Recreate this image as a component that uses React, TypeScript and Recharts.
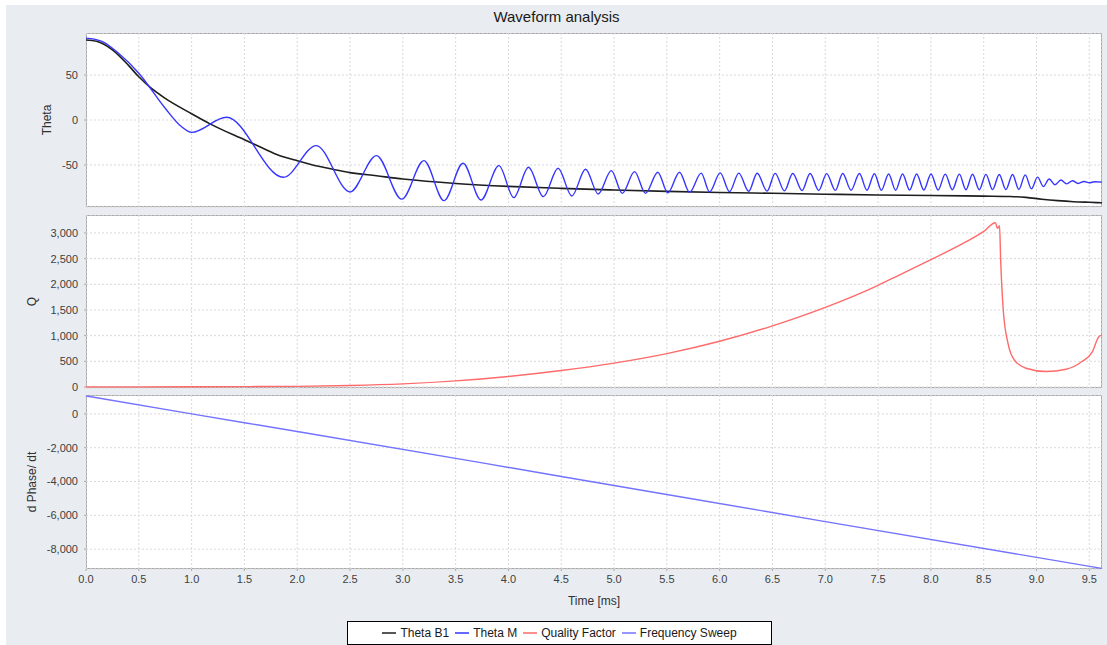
import { CartesianGrid, Line, LineChart, XAxis, YAxis } from "recharts";

// time axis (ms)
const X_TICKS = [0, 0.5, 1, 1.5, 2, 2.5, 3, 3.5, 4, 4.5, 5, 5.5, 6, 6.5, 7, 7.5, 8, 8.5, 9, 9.5];
const X_DOMAIN: [number, number] = [0, 9.62];

const THETA_TICKS = [-50, 0, 50];
const Q_TICKS = [0, 500, 1000, 1500, 2000, 2500, 3000];
const PHASE_TICKS = [-8000, -6000, -4000, -2000, 0];

// [time, value]
const thetaB1: [number, number][] = [
  [0, 89], [0.1, 87.5], [0.25, 78], [0.4, 61], [0.5, 48], [0.6, 37], [0.75, 24], [1.0, 7],
  [1.17, -4], [1.5, -22], [1.65, -30], [1.8, -38], [2.01, -45.5], [2.2, -51.5], [2.37, -55.6],
  [2.5, -58.5], [2.75, -62], [3.0, -65.5], [3.5, -70.5], [4.0, -73.8], [4.5, -76], [5.0, -77.8],
  [5.5, -79.3], [6.0, -80.5], [6.5, -81.5], [7.0, -82.5], [7.5, -83.3], [8.0, -84], [8.5, -84.6],
  [8.75, -85], [8.9, -86], [9.05, -88], [9.2, -89.6], [9.35, -90.8], [9.5, -91.5], [9.62, -92],
];

const thetaM: [number, number][] = [
  [0, 91], [0.15, 87.5], [0.3, 75], [0.5, 52], [0.75, 13], [0.9, -7], [1.0, -13.7],
  [1.33, 3], [1.87, -63.7], [2.18, -28.5], [2.5, -80], [2.75, -39.6], [2.99, -88],
  [3.2, -45.2], [3.39, -89.6], [3.57, -48.1], [3.74, -88.9], [3.91, -50.7], [4.05, -86.3],
  [4.19, -52.6], [4.33, -85.2], [4.47, -53.7], [4.6, -84.4], [4.73, -54.8], [4.85, -82.2],
  [4.974, -56.3], [5.078, -81.5], [5.194, -57.4], [5.298, -81.5], [5.414, -58.1], [5.509, -81],
  [5.62, -58], [5.715, -80.4], [5.825, -59], [5.904, -80], [6.005, -58.8], [6.093, -79.6],
  [6.181, -59], [6.275, -79.2], [6.355, -59.2], [6.449, -79], [6.525, -59.3], [6.613, -78.8],
  [6.692, -59.5], [6.78, -78.5], [6.856, -59.5], [6.938, -78.3], [7.013, -59.6], [7.095, -78.2],
  [7.165, -59.5], [7.244, -78], [7.323, -59.5], [7.394, -78], [7.465, -59.8], [7.531, -78],
  [7.6, -60], [7.666, -78], [7.732, -60], [7.798, -77.8], [7.865, -60], [7.933, -77.8],
  [8.001, -60], [8.068, -77.8], [8.136, -60.2], [8.203, -77.6], [8.269, -60.2], [8.332, -77.5],
  [8.394, -60.3], [8.458, -77.5], [8.521, -60.4], [8.584, -77.4], [8.647, -60.5], [8.71, -77.4],
  [8.773, -60.5], [8.833, -77.2], [8.893, -61], [8.952, -76.5], [9.01, -63.5], [9.065, -74],
  [9.12, -65.5], [9.175, -72], [9.231, -66.7], [9.286, -71], [9.341, -67.5], [9.394, -70.5],
  [9.45, -68.3], [9.5, -69.8], [9.55, -68.6], [9.62, -69],
];

const qualityFactor: [number, number][] = [
  [0, 2], [1, 4], [1.5, 7], [2, 12], [2.5, 28], [3, 60], [3.5, 118], [4, 205], [4.5, 320],
  [5, 465], [5.5, 650], [6, 890], [6.5, 1190], [7, 1550], [7.5, 1980], [7.7, 2180], [8.0, 2480],
  [8.33, 2825], [8.5, 3030], [8.61, 3200], [8.63, 3090], [8.65, 3140], [8.66, 2500],
  [8.685, 1500], [8.73, 850], [8.79, 525], [8.9, 365], [9.09, 300], [9.28, 345], [9.43, 495],
  [9.53, 690], [9.59, 980], [9.62, 1010],
];

const frequencySweep: [number, number][] = [
  [0, 1060], [1.0, 0], [2.0, -1040], [4.5, -3700], [7.0, -6370], [9.62, -9140],
];

const SERIES = [
  { name: "Theta B1", color: "#1e1e1e" },
  { name: "Theta M", color: "#3535ff" },
  { name: "Quality Factor", color: "#ff6a6a" },
  { name: "Frequency Sweep", color: "#7373ff" },
];

const FONT = '"Liberation Sans", Arial, Helvetica, sans-serif';
const PLOT_LEFT = 86;
const PLOT_W = 1016;
const CHART_W = 1107;
const AXIS_GRAY = "#a9a9a9";

const toRows = (pts: [number, number][]) => pts.map(([t, v]) => ({ t, v }));
const fmt = (v: number) => v.toLocaleString("en-US");

interface PanelProps {
  top: number;
  height: number;
  domain: [number, number];
  ticks: number[];
  label: string;
  labelOffset: number;
  lines: { rows: { t: number; v: number }[]; color: string; width: number }[];
  showX?: boolean;
}

function Panel({ top, height, domain, ticks, label, labelOffset, lines, showX }: PanelProps) {
  // room under the plot: x axis on the last panel, a little slack elsewhere so the "0" label isn't clipped
  const below = showX ? 40 : 8;
  return (
    <>
      <div
        style={{
          position: "absolute",
          left: PLOT_LEFT,
          top,
          width: PLOT_W,
          height,
          background: "#fff",
          border: `1px solid ${AXIS_GRAY}`,
          boxSizing: "border-box",
        }}
      />
      <div style={{ position: "absolute", left: 0, top }}>
        <LineChart
          width={CHART_W}
          height={height + below}
          margin={{ top: 0, right: CHART_W - PLOT_LEFT - PLOT_W, bottom: showX ? 0 : below, left: 0 }}
        >
          <CartesianGrid stroke="#d9d9d9" strokeDasharray="2 2" />
          <XAxis
            type="number"
            dataKey="t"
            domain={X_DOMAIN}
            ticks={X_TICKS}
            interval={0}
            allowDataOverflow
            hide={!showX}
            height={showX ? below : 0}
            axisLine={false}
            tickLine={{ stroke: AXIS_GRAY }}
            tickSize={2}
            tickMargin={4}
            tick={{ fontSize: 11, fill: "#404040" }}
            tickFormatter={(v: number) => v.toFixed(1)}
            label={
              showX
                ? { value: "Time [ms]", position: "insideBottom", offset: 4, fill: "#303030", fontSize: 12 }
                : undefined
            }
          />
          <YAxis
            type="number"
            domain={domain}
            ticks={ticks}
            interval={0}
            allowDataOverflow
            width={PLOT_LEFT}
            axisLine={false}
            tickLine={{ stroke: AXIS_GRAY }}
            tickSize={2}
            tickMargin={6}
            tick={{ fontSize: 11, fill: "#404040" }}
            tickFormatter={fmt}
            label={{
              value: label,
              angle: -90,
              position: "insideLeft",
              offset: labelOffset,
              fill: "#303030",
              fontSize: 12,
              style: { textAnchor: "middle" },
            }}
          />
          {lines.map((l, i) => (
            <Line
              key={i}
              data={l.rows}
              dataKey="v"
              type="monotone"
              stroke={l.color}
              strokeWidth={l.width}
              dot={false}
              isAnimationActive={false}
            />
          ))}
        </LineChart>
      </div>
    </>
  );
}

export default function App() {
  return (
    <div
      style={{
        position: "fixed",
        left: 0,
        top: 0,
        width: 1107,
        height: 645,
        background: "#fff",
        fontFamily: FONT,
        overflow: "hidden",
      }}
    >
      <div style={{ position: "absolute", left: 6, top: 5, right: 0, bottom: 0, background: "#e9edf1" }} />
      <div
        style={{
          position: "absolute",
          left: 6,
          right: 0,
          top: 8,
          textAlign: "center",
          fontSize: 15,
          color: "#1a1a1a",
        }}
      >
        Waveform analysis
      </div>

      <Panel
        top={33}
        height={174}
        domain={[-96.7, 96.7]}
        ticks={THETA_TICKS}
        label="Theta"
        labelOffset={47}
        lines={[
          { rows: toRows(thetaB1), color: SERIES[0].color, width: 1.6 },
          { rows: toRows(thetaM), color: SERIES[1].color, width: 1.4 },
        ]}
      />
      <Panel
        top={215}
        height={173}
        domain={[-20, 3350]}
        ticks={Q_TICKS}
        label="Q"
        labelOffset={32}
        lines={[{ rows: toRows(qualityFactor), color: SERIES[2].color, width: 1.4 }]}
      />
      <Panel
        top={395}
        height={174}
        domain={[-9176, 1118]}
        ticks={PHASE_TICKS}
        label="d Phase/ dt"
        labelOffset={32}
        lines={[{ rows: toRows(frequencySweep), color: SERIES[3].color, width: 1.4 }]}
        showX
      />

      <div
        style={{
          position: "absolute",
          left: 347,
          top: 621,
          width: 425,
          height: 24,
          boxSizing: "border-box",
          border: "1px solid #000",
          background: "#fff",
          display: "flex",
          alignItems: "center",
          justifyContent: "center",
          gap: 6,
          fontSize: 12,
          color: "#1a1a1a",
        }}
      >
        {SERIES.map((s) => (
          <span key={s.name} style={{ display: "flex", alignItems: "center", gap: 4 }}>
            <svg width={14} height={4}>
              <line x1={0} y1={2} x2={14} y2={2} stroke={s.color} strokeWidth={1.5} />
            </svg>
            {s.name}
          </span>
        ))}
      </div>
    </div>
  );
}
